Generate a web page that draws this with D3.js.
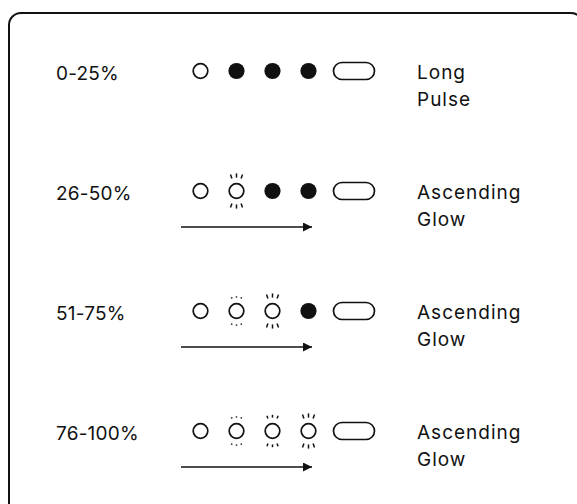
<!DOCTYPE html>
<html>
<head>
<meta charset="utf-8">
<script src="https://cdn.jsdelivr.net/npm/d3@7"></script>
<style>
  html, body { margin: 0; padding: 0; background: #fff; }
  svg { display: block; }
</style>
</head>
<body>
<svg id="chart"></svg>
<script>
// battery level rows
const levels = ["0-25%", "26-50%", "51-75%", "76-100%"];
// light pattern names, two lines each
const patterns = [["Long", "Pulse"], ["Ascending", "Glow"], ["Ascending", "Glow"], ["Ascending", "Glow"]];
// LED states per row: 0 = off (ring), 1..3 = glowing ring with rays, 4 = solid on
const ledStates = [
    [0, 4, 4, 4],
    [0, 3, 4, 4],
    [0, 1, 3, 4],
    [0, 1, 2, 3]
];
// rows that show the "ascending" arrow
const hasArrow = [false, true, true, true];

const width = 577, height = 504;
const ink = "#111";

const svg = d3.select("#chart")
    .attr("width", width)
    .attr("height", height)
    .style("font-family", "Inter, sans-serif");

svg.append("rect")
    .attr("x", 9).attr("y", 13)
    .attr("width", 574).attr("height", 510)
    .attr("rx", 12)
    .attr("fill", "#fff")
    .attr("stroke", ink)
    .attr("stroke-width", 2);

const y = d3.scalePoint().domain(levels).range([71, 431]);
const x = d3.scaleLinear().domain([0, 3]).range([200.5, 308.5]);
const r = 7.3;

svg.append("defs").append("marker")
    .attr("id", "head")
    .attr("viewBox", "0 0 10 10")
    .attr("refX", 10).attr("refY", 5)
    .attr("markerWidth", 14).attr("markerHeight", 9)
    .attr("markerUnits", "userSpaceOnUse")
    .attr("orient", "auto")
    .append("path")
    .attr("d", "M0,0L10,5L0,10Z")
    .attr("fill", ink);

const row = svg.selectAll("g.row")
    .data(levels.map((l, i) => ({level: l, pattern: patterns[i], leds: ledStates[i], arrow: hasArrow[i]})))
    .enter().append("g")
    .attr("class", "row")
    .attr("transform", d => `translate(0,${y(d.level)})`);

row.append("text")
    .attr("x", 56).attr("y", 9)
    .attr("fill", ink)
    .style("font-size", "19px")
    .style("letter-spacing", "0.2px")
    .text(d => d.level);

row.append("text")
    .attr("x", 417).attr("y", 0)
    .attr("fill", ink)
    .style("font-size", "19px")
    .style("letter-spacing", "1px")
    .selectAll("tspan")
    .data(d => d.pattern)
    .enter().append("tspan")
    .attr("x", 417)
    .attr("y", (d, i) => 8 + i * 27)
    .text(d => d);

const led = row.selectAll("g.led")
    .data(d => d.leds)
    .enter().append("g")
    .attr("class", "led")
    .attr("transform", (d, i) => `translate(${x(i)},0)`);

led.append("circle")
    .attr("r", d => d === 4 ? r + 0.8 : r)
    .attr("fill", d => d === 4 ? ink : "#fff")
    .attr("stroke", d => d === 4 ? "none" : ink)
    .attr("stroke-width", 1.7);

// glow rays, longer with stronger glow
const rayAngles = [-110, -90, -70, 70, 90, 110];
led.filter(d => d > 0 && d < 4)
    .selectAll("line")
    .data(d => rayAngles.map(a => ({a: a * Math.PI / 180, len: d === 1 ? 1.3 : d === 2 ? 2.8 : 4.2})))
    .enter().append("line")
    .attr("x1", d => Math.cos(d.a) * 13.4)
    .attr("y1", d => Math.sin(d.a) * 13.4)
    .attr("x2", d => Math.cos(d.a) * (13.4 + d.len))
    .attr("y2", d => Math.sin(d.a) * (13.4 + d.len))
    .attr("stroke", ink)
    .attr("stroke-width", 1.5);

// button
row.append("rect")
    .attr("x", 333.5).attr("y", -8.5)
    .attr("width", 41).attr("height", 17)
    .attr("rx", 8.5)
    .attr("fill", "#fff")
    .attr("stroke", ink)
    .attr("stroke-width", 1.7);

row.filter(d => d.arrow).append("line")
    .attr("x1", 181).attr("x2", 312)
    .attr("y1", 36).attr("y2", 36)
    .attr("stroke", ink)
    .attr("stroke-width", 1.7)
    .attr("marker-end", "url(#head)");
</script>
</body>
</html>
